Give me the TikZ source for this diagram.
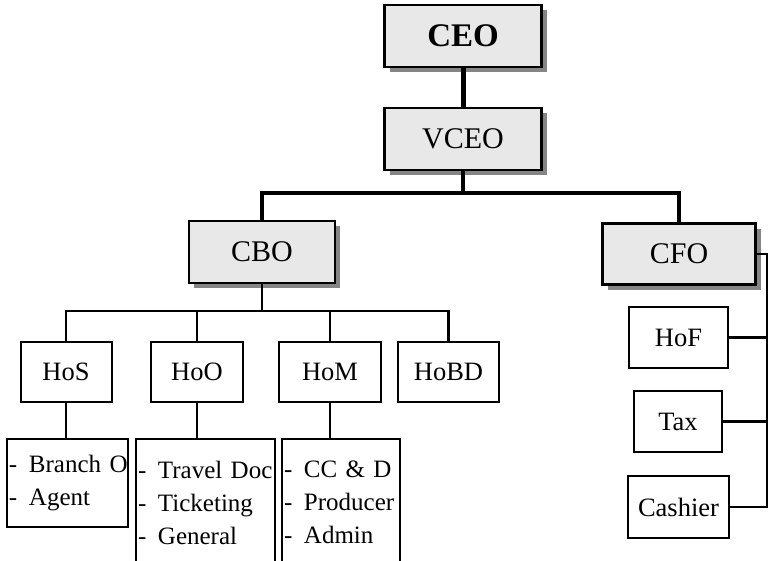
\documentclass[tikz,border=0pt]{standalone}
\usepackage{fontspec}
\setmainfont{Liberation Serif}
\usetikzlibrary{shadows}
\definecolor{boxfill}{HTML}{E8E8E8}
\definecolor{shade}{HTML}{858585}
\newcommand{\itm}[1]{\mbox{\makebox[20pt][l]{-}#1}}
\begin{document}
\begin{tikzpicture}[x=1pt,y=-1pt,
  topbox/.style={draw=black, line width=2.4pt, fill=boxfill, inner sep=0pt,
    drop shadow={shadow xshift=5pt, shadow yshift=-5pt, fill=shade, opacity=1},
    font=\fontsize{30}{30}\selectfont},
  subbox/.style={draw=black, line width=2pt, fill=white, inner sep=0pt,
    font=\fontsize{26.5}{26.5}\selectfont},
  listbox/.style={draw=black, line width=2pt, fill=white, inner xsep=2pt, inner ysep=0pt, align=left,
    font=\fontsize{25}{33}\selectfont},
  heavy/.style={line width=5pt},
  mid/.style={line width=3.5pt},
  thin/.style={line width=2.2pt}]
\useasboundingbox[fill=white] (0,0) rectangle (770,560);

% top levels
\node[topbox, minimum width=157, minimum height=62, font=\fontsize{33}{33}\selectfont\bfseries] (ceo) at (463,36) {CEO};
\node[topbox, minimum width=157, minimum height=62] (vceo) at (463,139) {VCEO};
\node[topbox, minimum width=146, minimum height=62] (cbo) at (262,252) {CBO};
\node[topbox, minimum width=153, minimum height=61] (cfo) at (679,254) {CFO};

% CBO heads
\node[subbox, minimum width=91, minimum height=60] (hos) at (66,372) {HoS};
\node[subbox, minimum width=92, minimum height=60] (hoo) at (197,372) {HoO};
\node[subbox, minimum width=102, minimum height=60] (hom) at (330,372) {HoM};
\node[subbox, minimum width=101, minimum height=60] (hobd) at (448.5,372) {HoBD};

% CFO heads
\node[subbox, minimum width=99, minimum height=61] (hof) at (678.5,337.5) {HoF};
\node[subbox, minimum width=88, minimum height=61] (tax) at (678,421.5) {Tax};
\node[subbox, minimum width=101, minimum height=62] (cash) at (678.5,507) {Cashier};

% lists
\node[listbox, text width=117pt, minimum height=88] (l1) at (67.5,483)
  {\itm{Branch O}\\\itm{Agent}};
\node[listbox, text width=135pt, minimum height=127] (l2) at (205.5,502.5)
  {\itm{Travel Doc}\\\itm{Ticketing}\\\itm{General}};
\node[listbox, text width=114pt, minimum height=127] (l3) at (341,502.5)
  {\itm{CC \& D}\\\itm{Producer}\\\itm{Admin}};

% junctions
\coordinate (j1) at (463,193);
\coordinate (j2) at (262,311);
\coordinate (r) at (767,255);

% connectors
\draw[heavy] (ceo) -- (vceo);
\draw[mid] (vceo.south) -- (j1);
\draw[mid] (cbo.north) |- (j1);
\draw[mid] (j1) -| (cfo.north);
\draw[thin] (cbo.south) -- (j2);
\draw[thin] (hos.north) |- (j2);
\draw[thin] (j2) -| (hobd.north);
\draw[thin] (hoo.north) -- (hoo.north |- j2);
\draw[thin] (hom.north) -- (hom.north |- j2);
\draw[thin] (hos.south) -- (hos.south |- l1.north);
\draw[thin] (hoo.south) -- (hoo.south |- l2.north);
\draw[thin] (hom.south) -- (hom.south |- l3.north);
\draw[thin] (cfo.east) -- (cfo.east -| r) -- (r |- cash.east) -- (cash.east);
\draw[thin] (hof.east) -- (hof.east -| r);
\draw[thin] (tax.east) -- (tax.east -| r);
\end{tikzpicture}
\end{document}
